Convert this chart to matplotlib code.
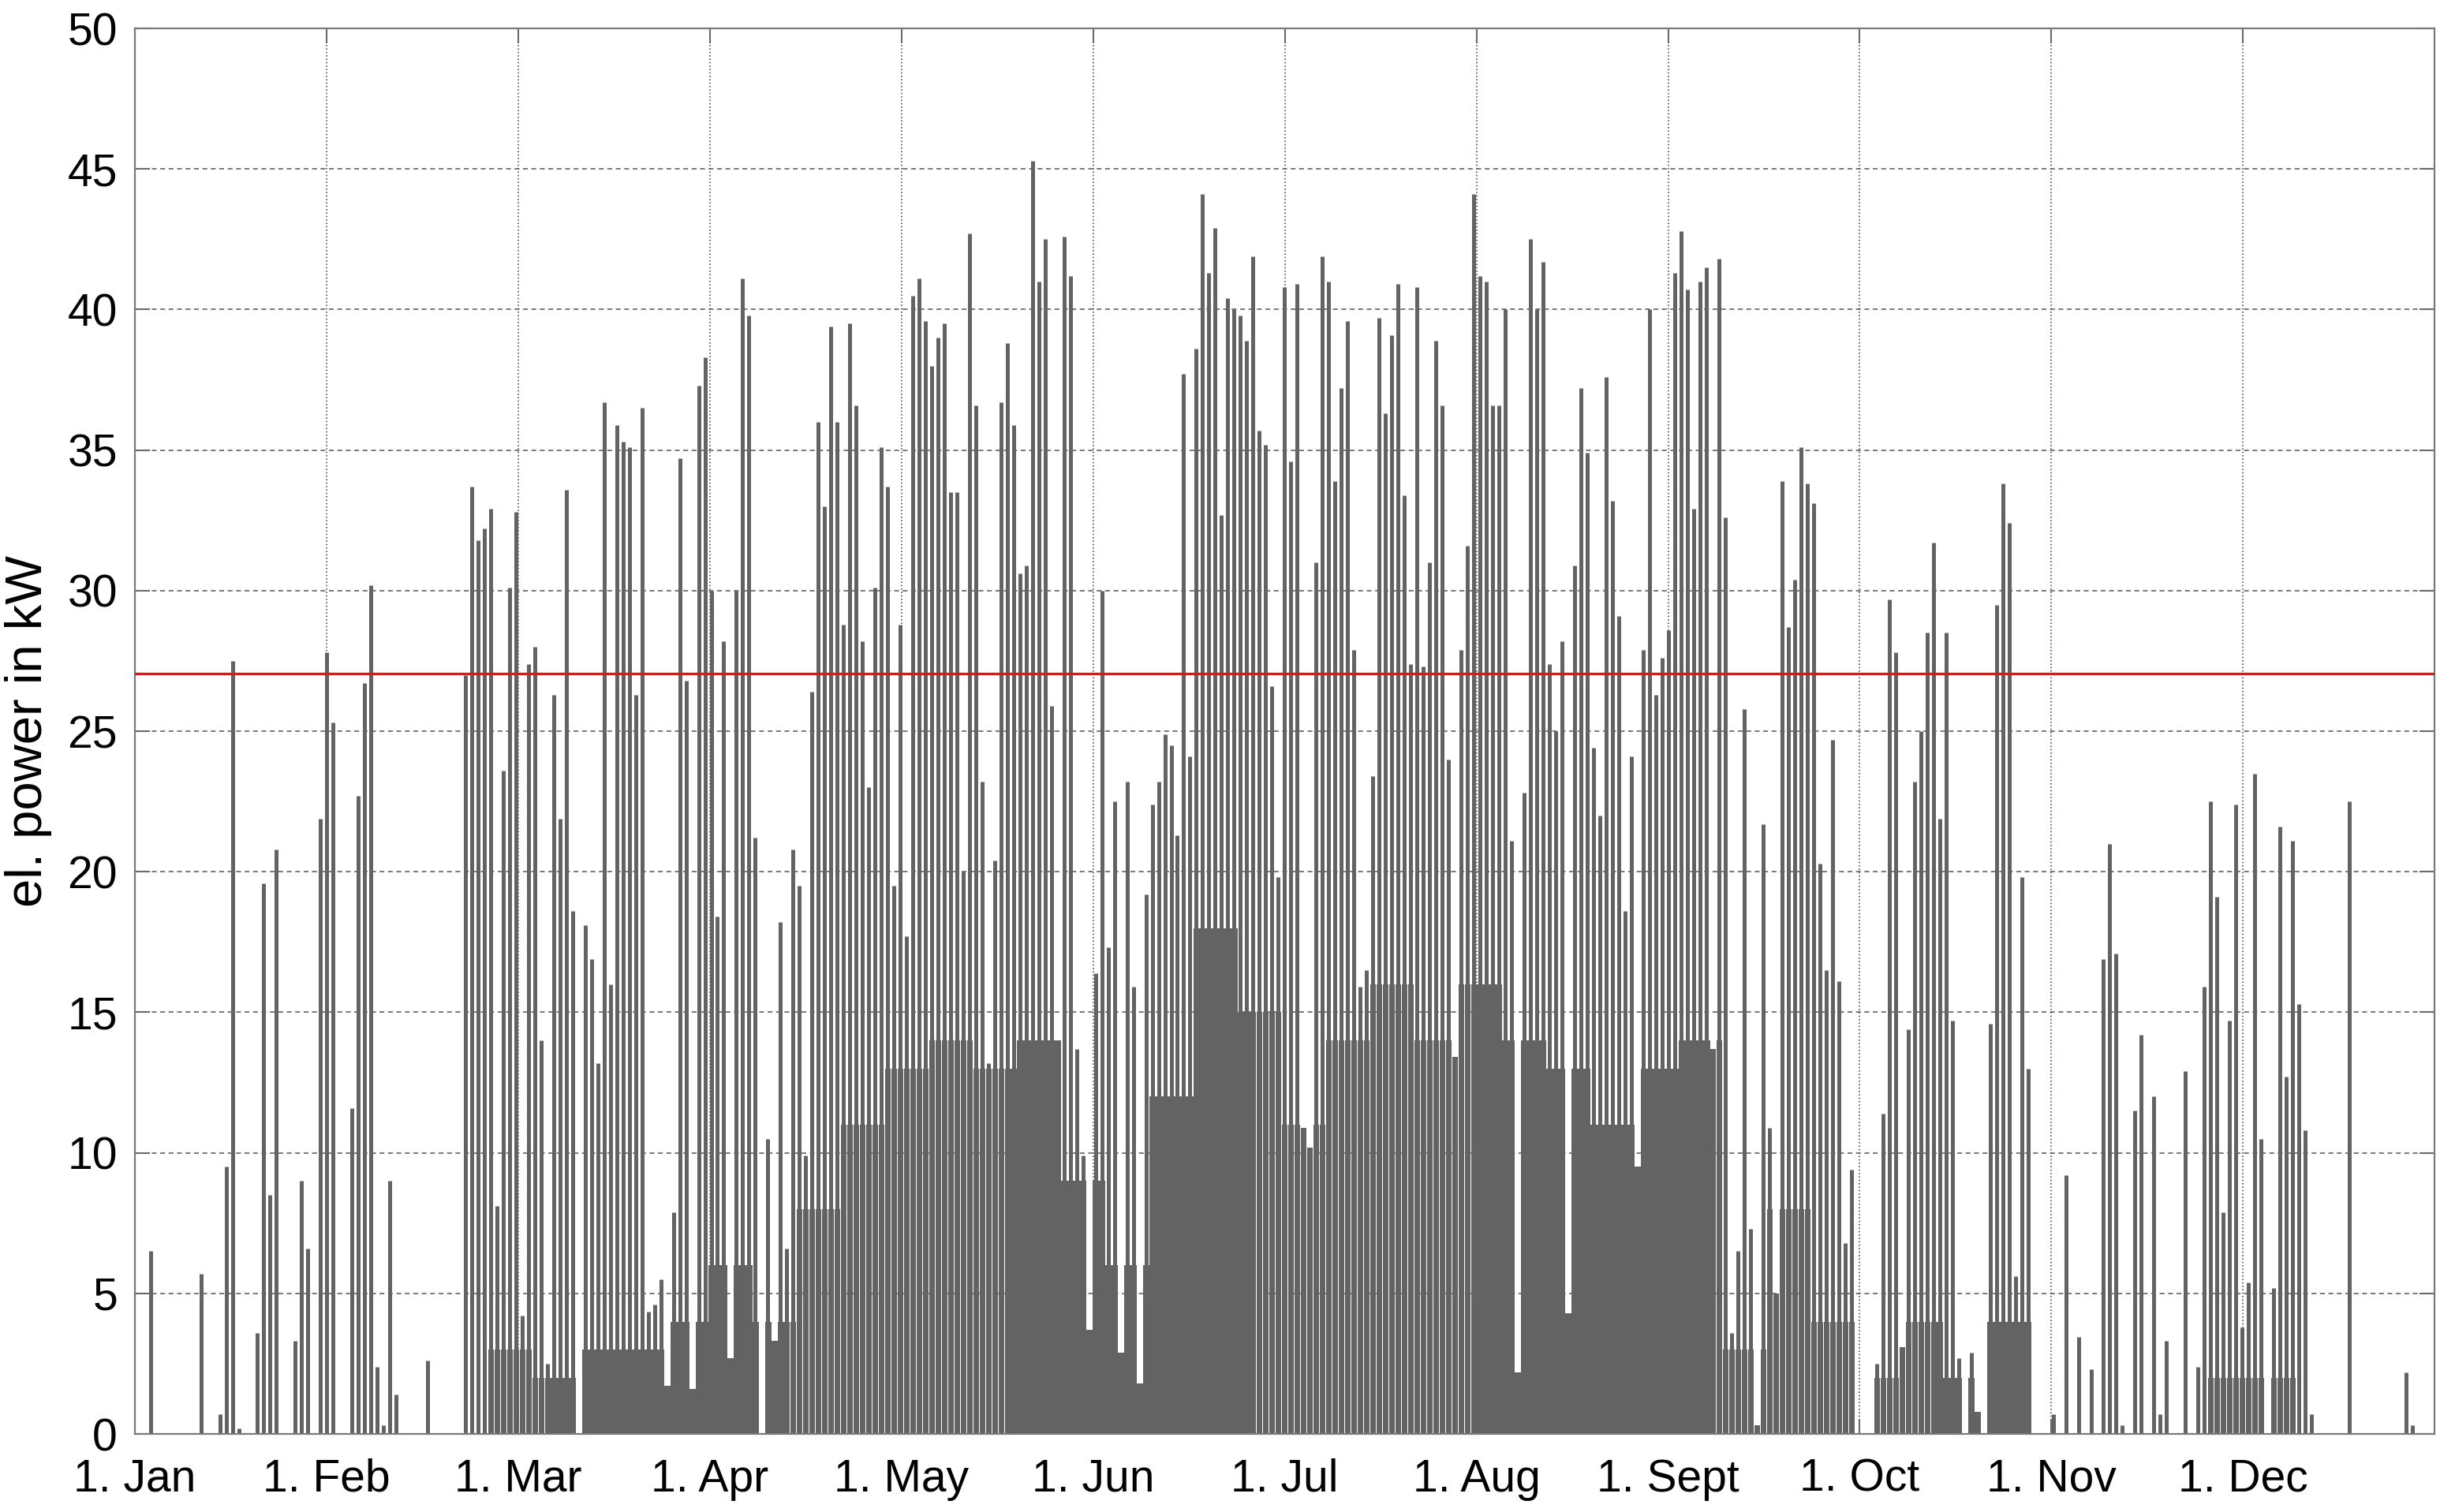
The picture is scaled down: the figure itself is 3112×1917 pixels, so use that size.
import numpy as np
import matplotlib
matplotlib.use("Agg")
import matplotlib.pyplot as plt

plt.rcParams['font.family'] = ['Liberation Sans', 'DejaVu Sans']

# day of year (0 = 1. Jan) with output, and the daily peak in kW
spike_day = [
    2, 10, 13, 14, 15, 16, 19, 20, 21, 22, 25, 26, 27, 29, 30, 31, 34, 35, 36, 37,
    38, 39, 40, 41, 46, 52, 53, 54, 55, 56, 57, 58, 59, 60, 61, 62, 63, 64, 65, 66,
    67, 68, 69, 71, 72, 73, 74, 75, 76, 77, 78, 79, 80, 81, 82, 83, 84, 85, 86, 87,
    88, 89, 90, 91, 92, 93, 94, 95, 96, 97, 98, 100, 101, 102, 103, 104, 105, 106, 107, 108,
    109, 110, 111, 112, 113, 114, 115, 116, 117, 118, 119, 120, 121, 122, 123, 124, 125, 126, 127, 128,
    129, 130, 131, 132, 133, 134, 135, 136, 137, 138, 139, 140, 141, 142, 143, 144, 145, 146, 147, 148,
    149, 150, 151, 152, 153, 154, 155, 156, 157, 158, 159, 160, 161, 162, 163, 164, 165, 166, 167, 168,
    169, 170, 171, 172, 173, 174, 175, 176, 177, 178, 179, 180, 181, 182, 183, 184, 185, 186, 187, 188,
    189, 190, 191, 192, 193, 194, 195, 196, 197, 198, 199, 200, 201, 202, 203, 204, 205, 206, 207, 208,
    209, 210, 211, 212, 213, 214, 215, 216, 217, 218, 219, 220, 221, 222, 223, 224, 225, 226, 227, 228,
    229, 230, 231, 232, 233, 234, 235, 236, 237, 238, 239, 240, 241, 242, 243, 244, 245, 246, 247, 248,
    249, 250, 251, 252, 253, 254, 255, 256, 257, 258, 259, 260, 261, 262, 263, 264, 265, 266, 267, 268,
    269, 270, 271, 272, 276, 277, 278, 279, 280, 281, 282, 283, 284, 285, 286, 287, 288, 289, 291, 292,
    294, 295, 296, 297, 298, 299, 300, 304, 306, 308, 310, 312, 313, 314, 315, 317, 318, 320, 321, 322,
    325, 327, 328, 329, 330, 331, 332, 333, 334, 335, 336, 337, 339, 340, 341, 342, 343, 344, 345, 351,
    360, 361,
]
spike_kw = [
    6.5, 5.7, 0.7, 9.5, 27.5, 0.2, 3.6, 19.6, 8.5, 20.8, 3.3, 9.0, 6.6, 21.9, 27.8, 25.3, 11.6, 22.7, 26.7, 30.2,
    2.4, 0.3, 9.0, 1.4, 2.6, 27.0, 33.7, 31.8, 32.2, 32.9, 8.1, 23.6, 30.1, 32.8, 4.2, 27.4, 28.0, 14.0, 2.5, 26.3,
    21.9, 33.6, 18.6, 18.1, 16.9, 13.2, 36.7, 16.0, 35.9, 35.3, 35.1, 26.3, 36.5, 4.35, 4.6, 5.5, 1.7, 7.9, 34.7, 26.8,
    1.6, 37.3, 38.3, 30.0, 18.4, 28.2, 2.7, 30.0, 41.1, 39.8, 21.2, 10.5, 3.3, 18.2, 6.6, 20.8, 19.5, 9.9, 26.4, 36.0,
    33.0, 39.4, 36.0, 28.8, 39.5, 36.6, 28.2, 23.0, 30.1, 35.1, 33.7, 19.5, 28.8, 17.7, 40.5, 41.1, 39.6, 38.0, 39.0, 39.5,
    33.5, 33.5, 20.0, 42.7, 36.6, 23.2, 13.2, 20.4, 36.7, 38.8, 35.9, 30.6, 30.9, 45.3, 41.0, 42.5, 25.9, 14.0, 42.6, 41.2,
    13.7, 9.9, 3.7, 16.4, 30.0, 17.3, 22.5, 2.9, 23.2, 15.9, 1.8, 19.2, 22.4, 23.2, 24.9, 24.5, 21.3, 37.7, 24.1, 38.6,
    44.1, 41.3, 42.9, 32.7, 40.4, 40.0, 39.8, 38.9, 41.9, 35.7, 35.2, 26.6, 19.8, 40.8, 34.6, 40.9, 10.9, 10.2, 31.0, 41.9,
    41.0, 33.9, 37.2, 39.6, 27.9, 15.9, 16.5, 23.4, 39.7, 36.3, 39.1, 40.9, 33.4, 27.4, 40.8, 27.3, 31.0, 38.9, 36.6, 24.0,
    13.4, 27.9, 31.6, 44.1, 41.2, 41.0, 36.6, 36.6, 40.0, 21.1, 2.2, 22.8, 42.5, 40.0, 41.7, 27.4, 25.0, 28.2, 4.3, 30.9,
    37.2, 34.9, 24.4, 22.0, 37.6, 33.2, 29.1, 18.6, 24.1, 9.5, 27.9, 40.0, 26.3, 27.6, 28.6, 41.3, 42.8, 40.7, 32.9, 41.0,
    41.5, 13.7, 41.8, 32.6, 3.6, 6.5, 25.8, 7.3, 0.3, 21.7, 10.9, 5.0, 33.9, 28.7, 30.4, 35.1, 33.8, 33.1, 20.3, 16.5,
    24.7, 16.1, 6.8, 9.4, 2.5, 11.4, 29.7, 27.8, 3.1, 14.4, 23.2, 25.0, 28.5, 31.7, 21.9, 28.5, 14.7, 2.7, 2.9, 0.8,
    14.6, 29.5, 33.8, 32.4, 5.6, 19.8, 13.0, 0.7, 9.2, 3.45, 2.3, 16.9, 21.0, 17.1, 0.3, 11.5, 14.2, 12.0, 0.7, 3.3,
    12.9, 2.4, 15.9, 22.5, 19.1, 7.9, 14.7, 22.4, 3.8, 5.4, 23.5, 10.5, 5.2, 21.6, 12.7, 21.1, 15.3, 10.8, 0.7, 22.5,
    2.2, 0.3,
]

# weekly level below which the hourly curves merge into a solid area (kW)
dense_floor = [
    0, 0, 0, 0, 0, 0, 0, 0, 3, 2, 3, 3, 4, 6, 4, 8, 11, 13, 14, 13,
    14, 9, 6, 12, 18, 15, 11, 14, 16, 14, 16, 14, 13, 11, 13, 14, 3, 8, 4, 2,
    4, 2, 4, 0, 0, 0, 0, 2, 2, 0, 0, 0, 0,
]

limit_kw = 27.05

month_labels = ['1. Jan', '1. Feb', '1. Mar', '1. Apr', '1. May', '1. Jun',
                '1. Jul', '1. Aug', '1. Sept', '1. Oct', '1. Nov', '1. Dec']

days = np.array(spike_day)
peaks = np.array(spike_kw)
floor = np.minimum(np.array(dense_floor)[days // 7], peaks)

bar_col = '#636363'
grid_col = '#555555'

fig = plt.figure(figsize=(31.12, 19.17), dpi=100)
ax = fig.add_axes([0.0550, 0.0516, 0.9367, 0.9296])

# solid lower part of each day
ax.bar(days + 0.5, floor, width=0.94, color=bar_col, linewidth=0)
ax.vlines(days + 0.45, 0, peaks, color=bar_col, linewidth=3.6)
ax.axhline(limit_kw, color='#ee1111', linewidth=2.4, zorder=5)

ax.set_xlim(0, 365)
ax.set_ylim(0, 50)
ax.set_xticks(np.arange(12) * 365 / 12)
ax.set_xticklabels(month_labels)
ax.set_yticks(np.arange(0, 51, 5))

ax.set_axisbelow(True)
ax.xaxis.grid(True, color=grid_col, linestyle=(0, (1, 1.6)), linewidth=1.2)
ax.yaxis.grid(True, color=grid_col, linestyle=(0, (4, 3)), linewidth=1.1)

ax.tick_params(direction='in', length=14, width=1.5, color='#6a6a6a',
               top=True, right=True, labelsize=41)
ax.tick_params(axis='y', pad=16)
ax.tick_params(axis='x', pad=22)
for s in ax.spines.values():
    s.set_color('#7a7a7a')
    s.set_linewidth(1.6)

ax.set_ylabel('el. power in kW', fontsize=47)
ax.yaxis.set_label_coords(-0.036, 0.5)

fig.savefig('out.png', dpi=100)
